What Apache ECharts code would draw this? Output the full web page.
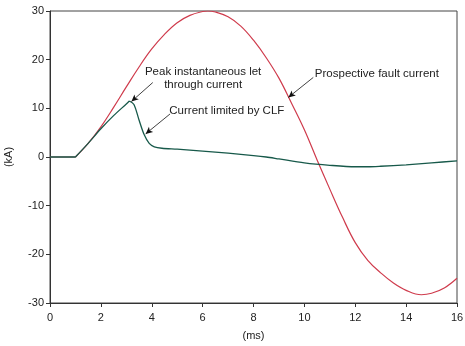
<!DOCTYPE html>
<html>
<head>
<meta charset="utf-8">
<script src="https://cdn.jsdelivr.net/npm/echarts@6/dist/echarts.min.js"></script>
<style>
  html, body { margin: 0; padding: 0; background: #fff; }
  #chart { width: 465px; height: 346px; }
</style>
</head>
<body>
<div id="chart"></div>
<script>
// Time axis (ms) and current samples (kA); '-' starts a new smoothed segment so corners stay sharp
var prospectiveT = [0, 1, 1, 1, 1.5, 2, 2.5, 3, 3.5, 4, 4.5, 5, 5.5, 6, 6.2, 6.5, 7, 7.5, 8, 8.5, 9, 9.5, 10, 10.5, 11, 11.5, 12, 12.5, 13, 13.5, 14, 14.6, 15, 15.5, 16];
var prospectiveI = [0, 0, '-', 0, 2.8, 6.2, 10.2, 14.4, 18.5, 22.2, 25.2, 27.6, 29.1, 29.9, 30.0, 29.8, 28.8, 26.9, 24.0, 20.4, 16.2, 11.0, 5.6, -0.6, -6.6, -12.4, -17.6, -21.3, -23.8, -25.9, -27.4, -28.3, -28.0, -26.9, -24.9];

var limitedT = [0, 1, 1, 1, 1.5, 2, 2.5, 3, 3.12, 3.12, 3.12, 3.3, 3.5, 3.7, 3.9, 4.1, 4.4, 5, 6, 7, 8, 8.5, 9, 10, 11, 12, 12.5, 13, 14, 15, 16];
var limitedI = [0, 0, '-', 0, 2.8, 5.8, 8.5, 10.9, 11.5, '-', 11.5, 10.8, 7.6, 4.6, 2.8, 2.1, 1.8, 1.6, 1.2, 0.8, 0.3, 0.0, -0.4, -1.2, -1.7, -2.0, -2.0, -1.9, -1.6, -1.2, -0.8];

// Callout texts, their anchor points and arrow ends (data units: ms, kA)
var calloutText = ['Peak instantaneous let\nthrough current', 'Current limited by CLF', 'Prospective fault current'];
var calloutTextAt = [[6.02, 16.2], [6.95, 9.5], [12.85, 17.0]];
var arrowFrom = [[4.04, 15.3], [4.72, 8.85], [10.35, 16.35]];
var arrowTo = [[3.2, 11.4], [3.76, 4.75], [9.37, 12.25]];

var xTicks = { min: 0, max: 16, interval: 2 };
var yTicks = { min: -30, max: 30, interval: 10 };

function pairs(xs, ys) { return xs.map(function (x, i) { return [x, ys[i]]; }); }

var FONT = 'Liberation Sans, Arial, sans-serif';
var RED = '#cf3b4c';
var GREEN = '#17594a';

var chart = echarts.init(document.getElementById('chart'), null, { renderer: 'canvas' });

var arrowLines = arrowFrom.map(function (p, i) {
  return [{ coord: p }, { coord: arrowTo[i] }];
});
var textPoints = calloutText.map(function (t, i) {
  return { coord: calloutTextAt[i], value: t };
});

chart.setOption({
  animation: false,
  backgroundColor: '#fff',
  grid: {
    left: 50, right: 8, top: 11, bottom: 43,
    containLabel: false, outerBoundsMode: 'none',
    show: true, borderColor: '#444', borderWidth: 1
  },
  xAxis: {
    type: 'value', min: xTicks.min, max: xTicks.max, interval: xTicks.interval,
    name: '(ms)', nameLocation: 'middle', nameGap: 27,
    nameTextStyle: { fontFamily: FONT, fontSize: 11, color: '#222' },
    axisLine: { onZero: false, lineStyle: { color: '#333', width: 1 } },
    axisTick: { show: true, length: 4, lineStyle: { color: '#333' } },
    axisLabel: { fontFamily: FONT, fontSize: 11, color: '#222', margin: 9 },
    splitLine: { show: false }
  },
  yAxis: {
    type: 'value', min: yTicks.min, max: yTicks.max, interval: yTicks.interval,
    name: '(kA)', nameLocation: 'middle', nameGap: 36, nameRotate: 90,
    nameTextStyle: { fontFamily: FONT, fontSize: 11, color: '#222' },
    axisLine: { show: true, onZero: false, lineStyle: { color: '#333', width: 1 } },
    axisTick: { show: true, length: 4, lineStyle: { color: '#333' } },
    axisLabel: { fontFamily: FONT, fontSize: 11, color: '#222', margin: 6 },
    splitLine: { show: false }
  },
  series: [
    {
      name: 'Prospective fault current',
      type: 'line',
      data: pairs(prospectiveT, prospectiveI),
      smooth: 0.4,
      showSymbol: false,
      lineStyle: { color: RED, width: 1.2 },
      z: 2
    },
    {
      name: 'Current limited by CLF',
      type: 'line',
      data: pairs(limitedT, limitedI),
      smooth: 0.3,
      showSymbol: false,
      lineStyle: { color: GREEN, width: 1.3 },
      z: 3,
      markLine: {
        silent: true,
        symbol: ['none', 'arrow'],
        symbolSize: [5, 7],
        label: { show: false },
        lineStyle: { color: '#111', width: 0.8, type: 'solid' },
        data: arrowLines
      },
      markPoint: {
        silent: true,
        symbol: 'circle', symbolSize: 0,
        label: {
          show: true, position: 'inside', align: 'center', verticalAlign: 'middle',
          fontFamily: FONT, fontSize: 11.5, color: '#222', lineHeight: 13,
          formatter: function (p) { return p.value; }
        },
        data: textPoints
      }
    }
  ]
});
</script>
</body>
</html>
